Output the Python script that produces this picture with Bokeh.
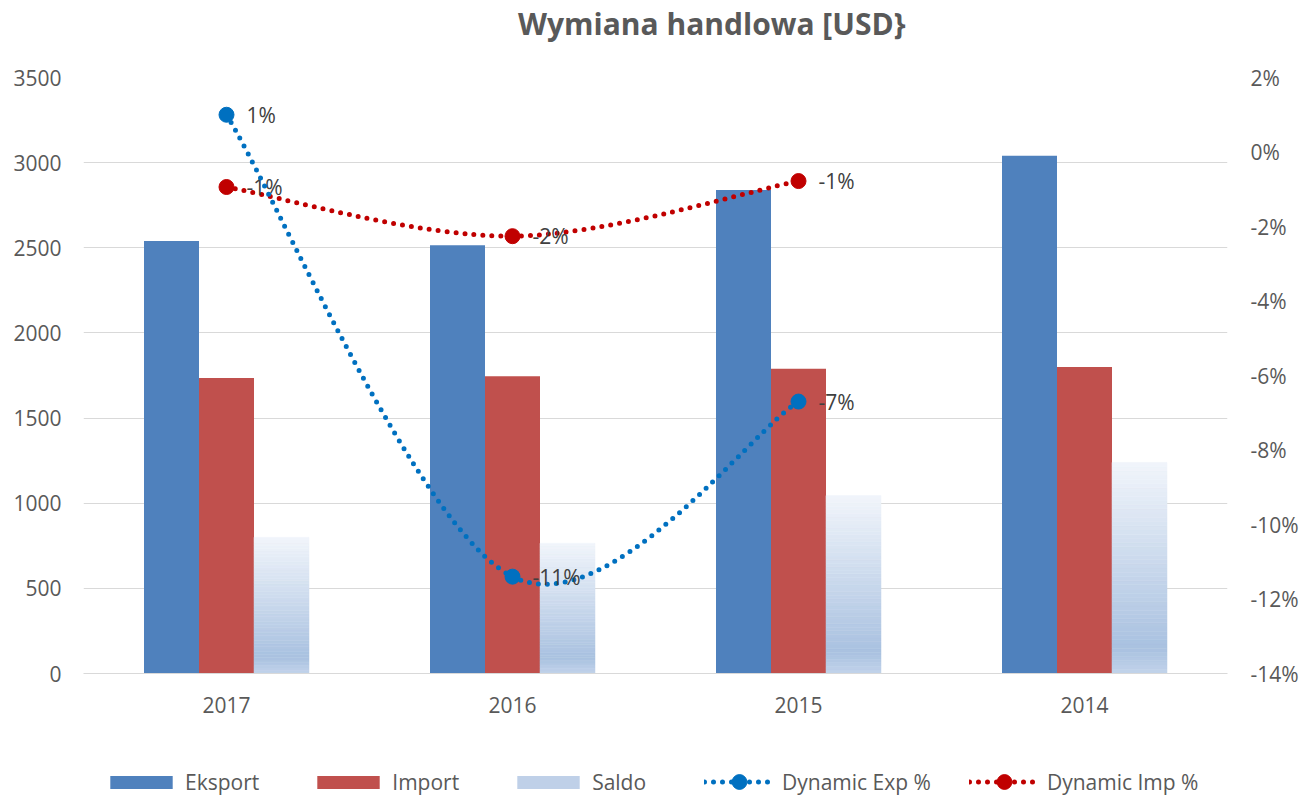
import numpy as np
from bokeh.plotting import figure
from bokeh.layouts import column
from bokeh.models import (Range1d, LinearAxis, FixedTicker, SingleIntervalTicker,
                          PrintfTickFormatter, Legend, LegendItem, Div)
from bokeh.core.properties import value
from bokeh.embed import file_html
from bokeh.resources import INLINE

# ---------------- data ----------------
title_text = "Wymiana handlowa [USD}"
years = ["2017", "2016", "2015", "2014"]
eksport = [2540, 2515, 2840, 3040]
import_ = [1735, 1745, 1790, 1800]
saldo = [800, 765, 1045, 1240]
dyn_years = ["2017", "2016", "2015"]
dyn_exp = [1.0, -11.4, -6.7]      # %
dyn_imp = [-0.94, -2.26, -0.78]   # %
series_names = ["Eksport", "Import", "Saldo", "Dynamic Exp %", "Dynamic Imp %"]

FONT = "Open Sans"
GRAY = "#595959"
C_EXP = "#4F81BD"
C_IMP = "#C0504D"
C_DEXP = "#0070C0"
C_DIMP = "#C00000"
C_SAL = "#BFD0E8"
TOTAL_W = 1301
BL, BR = 83, 74          # frame borders (left / right)

# ---------------- title ----------------
title = Div(text=title_text, width=TOTAL_W, height=45,
            styles={"font-family": "'Open Sans'", "font-size": "30px", "font-weight": "bold",
                    "color": GRAY, "line-height": "30px", "margin": "0",
                    "padding-top": "9px", "padding-left": "518px", "white-space": "nowrap"})

# ---------------- main chart ----------------
xc = np.arange(len(years)) + 0.5
pos = {y: x for y, x in zip(years, xc)}
W = 0.1923

p = figure(width=TOTAL_W, height=713, output_backend="svg", toolbar_location=None,
           x_range=Range1d(0, len(years)), y_range=Range1d(0, 3500),
           min_border_left=BL, min_border_right=BR, min_border_top=32, min_border_bottom=85)
p.extra_y_ranges = {"pct": Range1d(-14, 2)}
p.outline_line_color = None
p.background_fill_color = "white"
p.border_fill_color = "white"

p.xaxis.ticker = FixedTicker(ticks=list(xc))
p.xaxis.major_label_overrides = {float(x): y for x, y in zip(xc, years)}
p.xaxis.axis_line_color = "#D9D9D9"
p.xaxis.major_tick_line_color = None
p.xaxis.minor_tick_line_color = None
p.xaxis.major_label_standoff = 23
p.xgrid.grid_line_color = None

p.yaxis.ticker = SingleIntervalTicker(interval=500)
p.yaxis.axis_line_color = None
p.yaxis.major_tick_line_color = None
p.yaxis.minor_tick_line_color = None
p.yaxis.major_label_standoff = 18
p.ygrid.grid_line_color = "#D9D9D9"
p.ygrid.grid_line_width = 1

ra = LinearAxis(y_range_name="pct", ticker=SingleIntervalTicker(interval=2),
                formatter=PrintfTickFormatter(format="%d%%"))
ra.axis_line_color = None
ra.major_tick_line_color = None
ra.minor_tick_line_color = None
ra.major_label_standoff = 19
p.add_layout(ra, "right")

for ax in [p.xaxis[0], p.yaxis[0], ra]:
    ax.major_label_text_font = FONT
    ax.major_label_text_font_size = "21px"
    ax.major_label_text_color = GRAY
    ax.major_tick_in = 0
    ax.major_tick_out = 0

# bars
p.vbar(x=xc - W, top=eksport, width=W, fill_color=C_EXP, line_color=None)
p.vbar(x=xc, top=import_, width=W, fill_color=C_IMP, line_color=None)

# saldo gradient (bands computed from the saldo values)
def hx(c):
    return np.array([int(c[i:i + 2], 16) for i in (1, 3, 5)], dtype=float)

stops = [(0.0, hx("#C2D3EA")), (0.12, hx("#A9C1E0")), (1.0, hx("#F1F5FB"))]

def grad(t):
    for (t0, c0), (t1, c1) in zip(stops[:-1], stops[1:]):
        if t <= t1:
            f = (t - t0) / (t1 - t0)
            c = c0 + (c1 - c0) * f
            return "#%02x%02x%02x" % tuple(int(round(v)) for v in c)
    c = stops[-1][1]
    return "#%02x%02x%02x" % tuple(int(v) for v in c)

N = 50
bx, bb, bt, bc = [], [], [], []
for x, s in zip(xc, saldo):
    for k in range(N):
        bx.append(x + W)
        bb.append(s * k / N)
        bt.append(s * (k + 1) / N)
        bc.append(grad((k + 0.5) / N))
p.vbar(x=bx, bottom=bb, top=bt, width=W, fill_color=bc, line_color=bc, line_width=0.5)

# smooth dotted lines (bezier segments through the data points)
def bez(xs, ys):
    P = np.column_stack([xs, ys]).astype(float)
    n = len(P)
    out = dict(x0=[], y0=[], x1=[], y1=[], cx0=[], cy0=[], cx1=[], cy1=[])
    for i in range(n - 1):
        pp = P[i - 1] if i > 0 else P[i]
        pn = P[i + 2] if i + 2 < n else P[i + 1]
        c1 = P[i] + (P[i + 1] - pp) / 6.0
        c2 = P[i + 1] - (pn - P[i]) / 6.0
        out["x0"].append(P[i][0]); out["y0"].append(P[i][1])
        out["x1"].append(P[i + 1][0]); out["y1"].append(P[i + 1][1])
        out["cx0"].append(c1[0]); out["cy0"].append(c1[1])
        out["cx1"].append(c2[0]); out["cy1"].append(c2[1])
    return out

DOT_W = 5
DOT_DASH = "0 9"
MK = 15
dx = [pos[y] for y in dyn_years]
for vals, col in [(dyn_imp, C_DIMP), (dyn_exp, C_DEXP)]:
    b = bez(dx, vals)
    p.bezier(y_range_name="pct", line_color=col, line_width=DOT_W, line_dash=DOT_DASH,
             line_cap="round", **b)
    p.scatter(dx, vals, y_range_name="pct", size=MK, fill_color=col, line_color=col)
    p.text(x=dx, y=vals, text=["%d%%" % round(v) for v in vals], y_range_name="pct",
           x_offset=20, text_baseline="middle", text_align="left",
           text_font=value(FONT), text_font_size="21px", text_color="#404040")

# ---------------- legend strip ----------------
lg = figure(width=TOTAL_W, height=40, output_backend="svg", toolbar_location=None,
            x_range=Range1d(0, 1), y_range=Range1d(0, 1),
            x_axis_location=None, y_axis_location=None,
            min_border_left=BL, min_border_right=BR, min_border_top=0, min_border_bottom=0)
lg.outline_line_color = None
lg.grid.visible = False

# hidden proxy renderers (only their styles are used by the legends)
px, py = [0], [0]
r_exp = lg.vbar(x=px, top=py, width=0.1, fill_color=C_EXP, line_color=None, visible=False)
r_imp = lg.vbar(x=px, top=py, width=0.1, fill_color=C_IMP, line_color=None, visible=False)
r_sal = lg.vbar(x=px, top=py, width=0.1, fill_color=C_SAL, line_color=None, visible=False)
l_exp = lg.line(x=px, y=py, line_color=C_DEXP, line_width=DOT_W, line_dash=DOT_DASH,
                line_cap="round", visible=False)
m_exp = lg.scatter(x=px, y=py, size=MK, fill_color=C_DEXP, line_color=C_DEXP, visible=False)
l_imp = lg.line(x=px, y=py, line_color=C_DIMP, line_width=DOT_W, line_dash=DOT_DASH,
                line_cap="round", visible=False)
m_imp = lg.scatter(x=px, y=py, size=MK, fill_color=C_DIMP, line_color=C_DIMP, visible=False)

common = dict(orientation="horizontal", padding=0, margin=0, border_line_color=None,
              background_fill_alpha=0, label_text_font=FONT, label_text_font_size="21px",
              label_text_color=GRAY, inactive_fill_alpha=0)

legend_bars = Legend(items=[
    LegendItem(label=series_names[0], renderers=[r_exp]),
    LegendItem(label=series_names[1], renderers=[r_imp]),
    LegendItem(label=series_names[2], renderers=[r_sal]),
], location=(102 - BL, 2), glyph_width=78, glyph_height=16, label_standoff=5,
    spacing=50, **common)
legend_lines = Legend(items=[
    LegendItem(label=series_names[3], renderers=[l_exp, m_exp]),
    LegendItem(label=series_names[4], renderers=[l_imp, m_imp]),
], location=(704 - BL, -2), glyph_width=70, glyph_height=37, label_standoff=8,
    spacing=38, **common)
lg.add_layout(legend_bars)
lg.add_layout(legend_lines)

layout = column(title, p, lg, spacing=0)
open("out.html", "w").write(file_html(layout, INLINE))
